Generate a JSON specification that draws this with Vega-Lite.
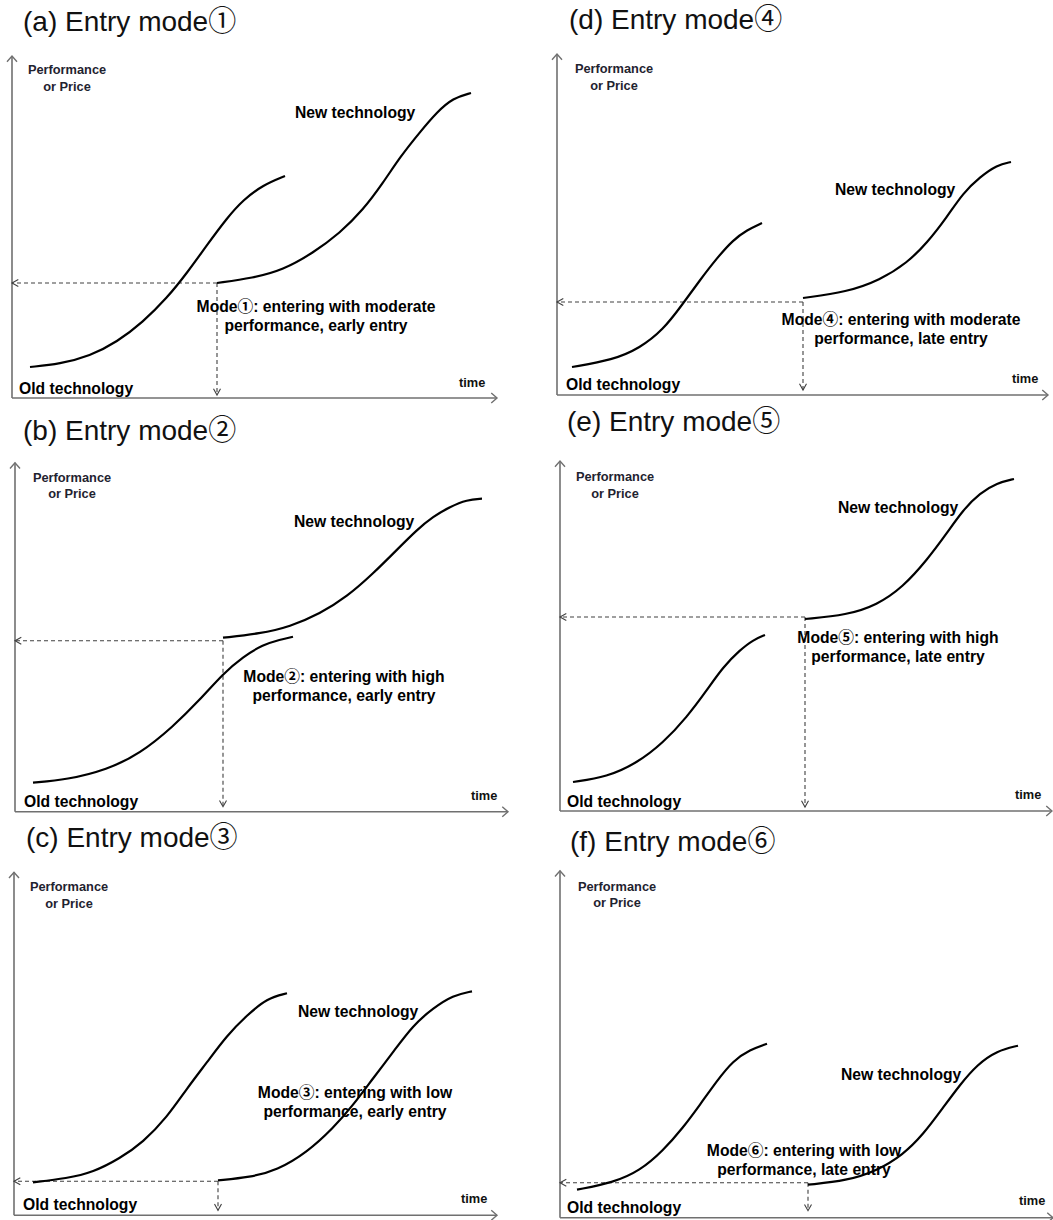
{
  "$schema": "https://vega.github.io/schema/vega-lite/v6.json",
  "description": "Six entry modes of a new technology against an old technology S-curve: performance (or price) over time.",
  "padding": 0,
  "spacing": 0,
  "config": {"view": {"stroke": null}, "concat": {"spacing": 0}},
  "data": {
    "values": [
      {"panel": "a", "kind": "axis", "time": 0, "level": 0, "time_end": 0, "level_end": 342},
      {"panel": "a", "kind": "axis", "time": 0, "level": 0, "time_end": 485, "level_end": 0},
      {"panel": "a", "kind": "axis head", "dir": "up", "time": 0, "level": 342},
      {"panel": "a", "kind": "axis head", "dir": "right", "time": 485, "level": 0},
      {"panel": "a", "kind": "guide", "time": 205, "level": 115, "time_end": 0, "level_end": 115},
      {"panel": "a", "kind": "guide", "time": 205, "level": 115, "time_end": 205, "level_end": 3},
      {"panel": "a", "kind": "guide head", "dir": "left", "time": 0, "level": 115},
      {"panel": "a", "kind": "guide head", "dir": "down", "time": 205, "level": 3},
      {"panel": "a", "kind": "curve", "series": "old", "time": 18, "level": 31},
      {"panel": "a", "kind": "curve", "series": "old", "time": 48, "level": 34},
      {"panel": "a", "kind": "curve", "series": "old", "time": 78, "level": 42},
      {"panel": "a", "kind": "curve", "series": "old", "time": 105, "level": 56},
      {"panel": "a", "kind": "curve", "series": "old", "time": 131, "level": 76},
      {"panel": "a", "kind": "curve", "series": "old", "time": 155, "level": 100},
      {"panel": "a", "kind": "curve", "series": "old", "time": 175, "level": 125},
      {"panel": "a", "kind": "curve", "series": "old", "time": 195, "level": 153},
      {"panel": "a", "kind": "curve", "series": "old", "time": 215, "level": 180},
      {"panel": "a", "kind": "curve", "series": "old", "time": 231, "level": 198},
      {"panel": "a", "kind": "curve", "series": "old", "time": 251, "level": 213},
      {"panel": "a", "kind": "curve", "series": "old", "time": 273, "level": 222},
      {"panel": "a", "kind": "curve", "series": "new", "time": 205, "level": 115},
      {"panel": "a", "kind": "curve", "series": "new", "time": 241, "level": 120},
      {"panel": "a", "kind": "curve", "series": "new", "time": 271, "level": 128},
      {"panel": "a", "kind": "curve", "series": "new", "time": 301, "level": 145},
      {"panel": "a", "kind": "curve", "series": "new", "time": 328, "level": 165},
      {"panel": "a", "kind": "curve", "series": "new", "time": 351, "level": 188},
      {"panel": "a", "kind": "curve", "series": "new", "time": 371, "level": 215},
      {"panel": "a", "kind": "curve", "series": "new", "time": 388, "level": 241},
      {"panel": "a", "kind": "curve", "series": "new", "time": 408, "level": 266},
      {"panel": "a", "kind": "curve", "series": "new", "time": 425, "level": 286},
      {"panel": "a", "kind": "curve", "series": "new", "time": 441, "level": 300},
      {"panel": "a", "kind": "curve", "series": "new", "time": 459, "level": 305},
      {"panel": "a", "kind": "title", "time": 11, "level": 367, "label": "(a) Entry mode①"},
      {"panel": "a", "kind": "y label", "time": 55, "level": 324, "label": "Performance\nor Price"},
      {"panel": "a", "kind": "x label", "time": 447, "level": 11, "label": "time"},
      {"panel": "a", "kind": "series label", "time": 283, "level": 280, "label": "New technology"},
      {"panel": "a", "kind": "series label", "time": 7, "level": 4, "label": "Old technology"},
      {"panel": "a", "kind": "note", "time": 304, "level": 86, "label": "Mode①: entering with moderate\nperformance, early entry"},

      {"panel": "b", "kind": "axis", "time": 0, "level": 0, "time_end": 0, "level_end": 349},
      {"panel": "b", "kind": "axis", "time": 0, "level": 0, "time_end": 493, "level_end": 0},
      {"panel": "b", "kind": "axis head", "dir": "up", "time": 0, "level": 349},
      {"panel": "b", "kind": "axis head", "dir": "right", "time": 493, "level": 0},
      {"panel": "b", "kind": "guide", "time": 208, "level": 171, "time_end": 0, "level_end": 171},
      {"panel": "b", "kind": "guide", "time": 208, "level": 171, "time_end": 208, "level_end": 5},
      {"panel": "b", "kind": "guide head", "dir": "left", "time": 0, "level": 171},
      {"panel": "b", "kind": "guide head", "dir": "down", "time": 208, "level": 5},
      {"panel": "b", "kind": "curve", "series": "old", "time": 18, "level": 29},
      {"panel": "b", "kind": "curve", "series": "old", "time": 52, "level": 32},
      {"panel": "b", "kind": "curve", "series": "old", "time": 92, "level": 42},
      {"panel": "b", "kind": "curve", "series": "old", "time": 125, "level": 58},
      {"panel": "b", "kind": "curve", "series": "old", "time": 158, "level": 85},
      {"panel": "b", "kind": "curve", "series": "old", "time": 185, "level": 112},
      {"panel": "b", "kind": "curve", "series": "old", "time": 208, "level": 138},
      {"panel": "b", "kind": "curve", "series": "old", "time": 228, "level": 155},
      {"panel": "b", "kind": "curve", "series": "old", "time": 248, "level": 167},
      {"panel": "b", "kind": "curve", "series": "old", "time": 265, "level": 172},
      {"panel": "b", "kind": "curve", "series": "old", "time": 278, "level": 175},
      {"panel": "b", "kind": "curve", "series": "new", "time": 208, "level": 174},
      {"panel": "b", "kind": "curve", "series": "new", "time": 245, "level": 178},
      {"panel": "b", "kind": "curve", "series": "new", "time": 275, "level": 185},
      {"panel": "b", "kind": "curve", "series": "new", "time": 305, "level": 198},
      {"panel": "b", "kind": "curve", "series": "new", "time": 332, "level": 215},
      {"panel": "b", "kind": "curve", "series": "new", "time": 358, "level": 238},
      {"panel": "b", "kind": "curve", "series": "new", "time": 382, "level": 262},
      {"panel": "b", "kind": "curve", "series": "new", "time": 402, "level": 282},
      {"panel": "b", "kind": "curve", "series": "new", "time": 418, "level": 295},
      {"panel": "b", "kind": "curve", "series": "new", "time": 435, "level": 305},
      {"panel": "b", "kind": "curve", "series": "new", "time": 452, "level": 312},
      {"panel": "b", "kind": "curve", "series": "new", "time": 467, "level": 313},
      {"panel": "b", "kind": "title", "time": 8, "level": 372, "label": "(b) Entry mode②"},
      {"panel": "b", "kind": "y label", "time": 57, "level": 330, "label": "Performance\nor Price"},
      {"panel": "b", "kind": "x label", "time": 456, "level": 12, "label": "time"},
      {"panel": "b", "kind": "series label", "time": 279, "level": 285, "label": "New technology"},
      {"panel": "b", "kind": "series label", "time": 9, "level": 5, "label": "Old technology"},
      {"panel": "b", "kind": "note", "time": 329, "level": 130, "label": "Mode②: entering with high\nperformance, early entry"},

      {"panel": "c", "kind": "axis", "time": 0, "level": 0, "time_end": 0, "level_end": 343},
      {"panel": "c", "kind": "axis", "time": 0, "level": 0, "time_end": 483, "level_end": 0},
      {"panel": "c", "kind": "axis head", "dir": "up", "time": 0, "level": 343},
      {"panel": "c", "kind": "axis head", "dir": "right", "time": 483, "level": 0},
      {"panel": "c", "kind": "guide", "time": 204, "level": 34, "time_end": 0, "level_end": 34},
      {"panel": "c", "kind": "guide", "time": 204, "level": 34, "time_end": 204, "level_end": 5},
      {"panel": "c", "kind": "guide head", "dir": "left", "time": 0, "level": 34},
      {"panel": "c", "kind": "guide head", "dir": "down", "time": 204, "level": 5},
      {"panel": "c", "kind": "curve", "series": "old", "time": 19, "level": 33},
      {"panel": "c", "kind": "curve", "series": "old", "time": 53, "level": 37},
      {"panel": "c", "kind": "curve", "series": "old", "time": 79, "level": 43},
      {"panel": "c", "kind": "curve", "series": "old", "time": 106, "level": 57},
      {"panel": "c", "kind": "curve", "series": "old", "time": 129, "level": 73},
      {"panel": "c", "kind": "curve", "series": "old", "time": 153, "level": 98},
      {"panel": "c", "kind": "curve", "series": "old", "time": 173, "level": 127},
      {"panel": "c", "kind": "curve", "series": "old", "time": 193, "level": 153},
      {"panel": "c", "kind": "curve", "series": "old", "time": 213, "level": 180},
      {"panel": "c", "kind": "curve", "series": "old", "time": 233, "level": 200},
      {"panel": "c", "kind": "curve", "series": "old", "time": 253, "level": 217},
      {"panel": "c", "kind": "curve", "series": "old", "time": 273, "level": 222},
      {"panel": "c", "kind": "curve", "series": "new", "time": 204, "level": 35},
      {"panel": "c", "kind": "curve", "series": "new", "time": 236, "level": 38},
      {"panel": "c", "kind": "curve", "series": "new", "time": 263, "level": 45},
      {"panel": "c", "kind": "curve", "series": "new", "time": 293, "level": 63},
      {"panel": "c", "kind": "curve", "series": "new", "time": 319, "level": 87},
      {"panel": "c", "kind": "curve", "series": "new", "time": 339, "level": 110},
      {"panel": "c", "kind": "curve", "series": "new", "time": 359, "level": 137},
      {"panel": "c", "kind": "curve", "series": "new", "time": 379, "level": 163},
      {"panel": "c", "kind": "curve", "series": "new", "time": 399, "level": 190},
      {"panel": "c", "kind": "curve", "series": "new", "time": 419, "level": 207},
      {"panel": "c", "kind": "curve", "series": "new", "time": 439, "level": 220},
      {"panel": "c", "kind": "curve", "series": "new", "time": 458, "level": 224},
      {"panel": "c", "kind": "title", "time": 12, "level": 368, "label": "(c) Entry mode③"},
      {"panel": "c", "kind": "y label", "time": 55, "level": 324, "label": "Performance\nor Price"},
      {"panel": "c", "kind": "x label", "time": 447, "level": 12, "label": "time"},
      {"panel": "c", "kind": "series label", "time": 284, "level": 198, "label": "New technology"},
      {"panel": "c", "kind": "series label", "time": 9, "level": 5, "label": "Old technology"},
      {"panel": "c", "kind": "note", "time": 341, "level": 117, "label": "Mode③: entering with low\nperformance, early entry"},

      {"panel": "d", "kind": "axis", "time": 0, "level": 0, "time_end": 0, "level_end": 341},
      {"panel": "d", "kind": "axis", "time": 0, "level": 0, "time_end": 491, "level_end": 0},
      {"panel": "d", "kind": "axis head", "dir": "up", "time": 0, "level": 341},
      {"panel": "d", "kind": "axis head", "dir": "right", "time": 491, "level": 0},
      {"panel": "d", "kind": "guide", "time": 246, "level": 93, "time_end": 0, "level_end": 93},
      {"panel": "d", "kind": "guide", "time": 246, "level": 93, "time_end": 246, "level_end": 5},
      {"panel": "d", "kind": "guide head", "dir": "left", "time": 0, "level": 93},
      {"panel": "d", "kind": "guide head", "dir": "down", "time": 246, "level": 5},
      {"panel": "d", "kind": "curve", "series": "old", "time": 15, "level": 28},
      {"panel": "d", "kind": "curve", "series": "old", "time": 56, "level": 35},
      {"panel": "d", "kind": "curve", "series": "old", "time": 83, "level": 47},
      {"panel": "d", "kind": "curve", "series": "old", "time": 106, "level": 65},
      {"panel": "d", "kind": "curve", "series": "old", "time": 125, "level": 90},
      {"panel": "d", "kind": "curve", "series": "old", "time": 143, "level": 115},
      {"panel": "d", "kind": "curve", "series": "old", "time": 160, "level": 137},
      {"panel": "d", "kind": "curve", "series": "old", "time": 176, "level": 155},
      {"panel": "d", "kind": "curve", "series": "old", "time": 190, "level": 165},
      {"panel": "d", "kind": "curve", "series": "old", "time": 205, "level": 172},
      {"panel": "d", "kind": "curve", "series": "new", "time": 246, "level": 97},
      {"panel": "d", "kind": "curve", "series": "new", "time": 290, "level": 103},
      {"panel": "d", "kind": "curve", "series": "new", "time": 323, "level": 115},
      {"panel": "d", "kind": "curve", "series": "new", "time": 350, "level": 132},
      {"panel": "d", "kind": "curve", "series": "new", "time": 370, "level": 152},
      {"panel": "d", "kind": "curve", "series": "new", "time": 390, "level": 178},
      {"panel": "d", "kind": "curve", "series": "new", "time": 406, "level": 202},
      {"panel": "d", "kind": "curve", "series": "new", "time": 423, "level": 218},
      {"panel": "d", "kind": "curve", "series": "new", "time": 440, "level": 230},
      {"panel": "d", "kind": "curve", "series": "new", "time": 454, "level": 233},
      {"panel": "d", "kind": "title", "time": 12, "level": 366, "label": "(d) Entry mode④"},
      {"panel": "d", "kind": "y label", "time": 57, "level": 322, "label": "Performance\nor Price"},
      {"panel": "d", "kind": "x label", "time": 455, "level": 12, "label": "time"},
      {"panel": "d", "kind": "series label", "time": 278, "level": 200, "label": "New technology"},
      {"panel": "d", "kind": "series label", "time": 9, "level": 5, "label": "Old technology"},
      {"panel": "d", "kind": "note", "time": 344, "level": 70, "label": "Mode④: entering with moderate\nperformance, late entry"},

      {"panel": "e", "kind": "axis", "time": 0, "level": 0, "time_end": 0, "level_end": 350},
      {"panel": "e", "kind": "axis", "time": 0, "level": 0, "time_end": 492, "level_end": 0},
      {"panel": "e", "kind": "axis head", "dir": "up", "time": 0, "level": 350},
      {"panel": "e", "kind": "axis head", "dir": "right", "time": 492, "level": 0},
      {"panel": "e", "kind": "guide", "time": 245, "level": 194, "time_end": 0, "level_end": 194},
      {"panel": "e", "kind": "guide", "time": 245, "level": 194, "time_end": 245, "level_end": 4},
      {"panel": "e", "kind": "guide head", "dir": "left", "time": 0, "level": 194},
      {"panel": "e", "kind": "guide head", "dir": "down", "time": 245, "level": 4},
      {"panel": "e", "kind": "curve", "series": "old", "time": 13, "level": 29},
      {"panel": "e", "kind": "curve", "series": "old", "time": 47, "level": 34},
      {"panel": "e", "kind": "curve", "series": "old", "time": 77, "level": 48},
      {"panel": "e", "kind": "curve", "series": "old", "time": 103, "level": 68},
      {"panel": "e", "kind": "curve", "series": "old", "time": 127, "level": 94},
      {"panel": "e", "kind": "curve", "series": "old", "time": 147, "level": 121},
      {"panel": "e", "kind": "curve", "series": "old", "time": 163, "level": 144},
      {"panel": "e", "kind": "curve", "series": "old", "time": 180, "level": 161},
      {"panel": "e", "kind": "curve", "series": "old", "time": 193, "level": 171},
      {"panel": "e", "kind": "curve", "series": "old", "time": 205, "level": 176},
      {"panel": "e", "kind": "curve", "series": "new", "time": 245, "level": 192},
      {"panel": "e", "kind": "curve", "series": "new", "time": 287, "level": 196},
      {"panel": "e", "kind": "curve", "series": "new", "time": 317, "level": 206},
      {"panel": "e", "kind": "curve", "series": "new", "time": 343, "level": 224},
      {"panel": "e", "kind": "curve", "series": "new", "time": 367, "level": 251},
      {"panel": "e", "kind": "curve", "series": "new", "time": 387, "level": 278},
      {"panel": "e", "kind": "curve", "series": "new", "time": 403, "level": 301},
      {"panel": "e", "kind": "curve", "series": "new", "time": 420, "level": 318},
      {"panel": "e", "kind": "curve", "series": "new", "time": 437, "level": 328},
      {"panel": "e", "kind": "curve", "series": "new", "time": 454, "level": 332},
      {"panel": "e", "kind": "title", "time": 7, "level": 380, "label": "(e) Entry mode⑤"},
      {"panel": "e", "kind": "y label", "time": 55, "level": 330, "label": "Performance\nor Price"},
      {"panel": "e", "kind": "x label", "time": 455, "level": 12, "label": "time"},
      {"panel": "e", "kind": "series label", "time": 278, "level": 298, "label": "New technology"},
      {"panel": "e", "kind": "series label", "time": 7, "level": 4, "label": "Old technology"},
      {"panel": "e", "kind": "note", "time": 338, "level": 168, "label": "Mode⑤: entering with high\nperformance, late entry"},

      {"panel": "f", "kind": "axis", "time": 0, "level": 0, "time_end": 0, "level_end": 347},
      {"panel": "f", "kind": "axis", "time": 0, "level": 0, "time_end": 493, "level_end": 0},
      {"panel": "f", "kind": "axis head", "dir": "up", "time": 0, "level": 347},
      {"panel": "f", "kind": "axis head", "dir": "right", "time": 493, "level": 0},
      {"panel": "f", "kind": "guide", "time": 248, "level": 35, "time_end": 0, "level_end": 35},
      {"panel": "f", "kind": "guide", "time": 248, "level": 35, "time_end": 248, "level_end": 7},
      {"panel": "f", "kind": "guide head", "dir": "left", "time": 0, "level": 35},
      {"panel": "f", "kind": "guide head", "dir": "down", "time": 248, "level": 7},
      {"panel": "f", "kind": "curve", "series": "old", "time": 17, "level": 28},
      {"panel": "f", "kind": "curve", "series": "old", "time": 53, "level": 35},
      {"panel": "f", "kind": "curve", "series": "old", "time": 80, "level": 47},
      {"panel": "f", "kind": "curve", "series": "old", "time": 103, "level": 67},
      {"panel": "f", "kind": "curve", "series": "old", "time": 123, "level": 90},
      {"panel": "f", "kind": "curve", "series": "old", "time": 140, "level": 113},
      {"panel": "f", "kind": "curve", "series": "old", "time": 157, "level": 137},
      {"panel": "f", "kind": "curve", "series": "old", "time": 173, "level": 157},
      {"panel": "f", "kind": "curve", "series": "old", "time": 190, "level": 168},
      {"panel": "f", "kind": "curve", "series": "old", "time": 207, "level": 174},
      {"panel": "f", "kind": "curve", "series": "new", "time": 248, "level": 33},
      {"panel": "f", "kind": "curve", "series": "new", "time": 287, "level": 37},
      {"panel": "f", "kind": "curve", "series": "new", "time": 317, "level": 47},
      {"panel": "f", "kind": "curve", "series": "new", "time": 343, "level": 63},
      {"panel": "f", "kind": "curve", "series": "new", "time": 363, "level": 83},
      {"panel": "f", "kind": "curve", "series": "new", "time": 383, "level": 110},
      {"panel": "f", "kind": "curve", "series": "new", "time": 400, "level": 133},
      {"panel": "f", "kind": "curve", "series": "new", "time": 417, "level": 153},
      {"panel": "f", "kind": "curve", "series": "new", "time": 437, "level": 167},
      {"panel": "f", "kind": "curve", "series": "new", "time": 458, "level": 172},
      {"panel": "f", "kind": "title", "time": 10, "level": 367, "label": "(f) Entry mode⑥"},
      {"panel": "f", "kind": "y label", "time": 57, "level": 327, "label": "Performance\nor Price"},
      {"panel": "f", "kind": "x label", "time": 459, "level": 13, "label": "time"},
      {"panel": "f", "kind": "series label", "time": 281, "level": 138, "label": "New technology"},
      {"panel": "f", "kind": "series label", "time": 7, "level": 5, "label": "Old technology"},
      {"panel": "f", "kind": "note", "time": 244, "level": 62, "label": "Mode⑥: entering with low\nperformance, late entry"}
    ]
  },
  "hconcat": [
    {
      "spacing": 0,
      "vconcat": [
        {
          "width": 526, "height": 408,
          "transform": [{"filter": "datum.panel === 'a'"}],
          "encoding": {
            "x": {"field": "time", "type": "quantitative", "scale": {"domain": [-12, 514], "nice": false, "zero": false}, "axis": null},
            "y": {"field": "level", "type": "quantitative", "scale": {"domain": [-10, 398], "nice": false, "zero": false}, "axis": null}
          },
          "layer": [
            {"transform": [{"filter": "datum.kind === 'axis'"}], "mark": {"type": "rule", "color": "#707070", "strokeWidth": 1.6}, "encoding": {"x2": {"field": "time_end"}, "y2": {"field": "level_end"}}},
            {"transform": [{"filter": "datum.kind === 'axis head'"}], "mark": {"type": "point", "shape": "M-1,1.15L0,0L1,1.15", "filled": false, "size": 100, "strokeWidth": 1.4, "color": "#707070", "opacity": 1}, "encoding": {"angle": {"condition": {"test": "datum.dir === 'right'", "value": 90}, "value": 0}}},
            {"transform": [{"filter": "datum.kind === 'guide'"}], "mark": {"type": "rule", "color": "#404040", "strokeWidth": 1.1, "strokeDash": [4, 3]}, "encoding": {"x2": {"field": "time_end"}, "y2": {"field": "level_end"}}},
            {"transform": [{"filter": "datum.kind === 'guide head'"}], "mark": {"type": "point", "shape": "M-1,1.8L0,0L1,1.8", "filled": false, "size": 49, "strokeWidth": 1.1, "color": "#404040", "opacity": 1}, "encoding": {"angle": {"condition": {"test": "datum.dir === 'left'", "value": 270}, "value": 180}}},
            {"transform": [{"filter": "datum.kind === 'curve'"}], "mark": {"type": "line", "interpolate": "basis", "color": "#000000", "strokeWidth": 2.2}, "encoding": {"detail": {"field": "series"}}},
            {"transform": [{"filter": "datum.kind === 'title'"}], "mark": {"type": "text", "align": "left", "baseline": "alphabetic", "font": "Arial, 'Liberation Sans', 'Noto Sans CJK JP', sans-serif", "fontSize": 28, "color": "#111111"}, "encoding": {"text": {"field": "label"}}},
            {"transform": [{"filter": "datum.kind === 'y label'"}], "mark": {"type": "text", "align": "center", "baseline": "alphabetic", "font": "Arial, 'Liberation Sans', sans-serif", "fontSize": 12.8, "fontWeight": "bold", "lineBreak": "\n", "lineHeight": 16.5, "color": "#1f2330"}, "encoding": {"text": {"field": "label"}}},
            {"transform": [{"filter": "datum.kind === 'x label'"}], "mark": {"type": "text", "align": "left", "baseline": "alphabetic", "font": "Arial, 'Liberation Sans', sans-serif", "fontSize": 12.8, "fontWeight": "bold", "color": "#111111"}, "encoding": {"text": {"field": "label"}}},
            {"transform": [{"filter": "datum.kind === 'series label'"}], "mark": {"type": "text", "align": "left", "baseline": "alphabetic", "font": "Arial, 'Liberation Sans', sans-serif", "fontSize": 15.7, "fontWeight": "bold", "color": "#000000"}, "encoding": {"text": {"field": "label"}}},
            {"transform": [{"filter": "datum.kind === 'note'"}], "mark": {"type": "text", "align": "center", "baseline": "alphabetic", "font": "Arial, 'Liberation Sans', 'Noto Sans CJK JP', sans-serif", "fontSize": 15.7, "fontWeight": "bold", "lineBreak": "\n", "lineHeight": 19, "color": "#000000"}, "encoding": {"text": {"field": "label"}}}
          ]
        },
        {
          "width": 526, "height": 410,
          "transform": [{"filter": "datum.panel === 'b'"}],
          "encoding": {
            "x": {"field": "time", "type": "quantitative", "scale": {"domain": [-15, 511], "nice": false, "zero": false}, "axis": null},
            "y": {"field": "level", "type": "quantitative", "scale": {"domain": [-6.3, 403.7], "nice": false, "zero": false}, "axis": null}
          },
          "layer": [
            {"transform": [{"filter": "datum.kind === 'axis'"}], "mark": {"type": "rule", "color": "#707070", "strokeWidth": 1.6}, "encoding": {"x2": {"field": "time_end"}, "y2": {"field": "level_end"}}},
            {"transform": [{"filter": "datum.kind === 'axis head'"}], "mark": {"type": "point", "shape": "M-1,1.15L0,0L1,1.15", "filled": false, "size": 100, "strokeWidth": 1.4, "color": "#707070", "opacity": 1}, "encoding": {"angle": {"condition": {"test": "datum.dir === 'right'", "value": 90}, "value": 0}}},
            {"transform": [{"filter": "datum.kind === 'guide'"}], "mark": {"type": "rule", "color": "#404040", "strokeWidth": 1.1, "strokeDash": [4, 3]}, "encoding": {"x2": {"field": "time_end"}, "y2": {"field": "level_end"}}},
            {"transform": [{"filter": "datum.kind === 'guide head'"}], "mark": {"type": "point", "shape": "M-1,1.8L0,0L1,1.8", "filled": false, "size": 49, "strokeWidth": 1.1, "color": "#404040", "opacity": 1}, "encoding": {"angle": {"condition": {"test": "datum.dir === 'left'", "value": 270}, "value": 180}}},
            {"transform": [{"filter": "datum.kind === 'curve'"}], "mark": {"type": "line", "interpolate": "basis", "color": "#000000", "strokeWidth": 2.2}, "encoding": {"detail": {"field": "series"}}},
            {"transform": [{"filter": "datum.kind === 'title'"}], "mark": {"type": "text", "align": "left", "baseline": "alphabetic", "font": "Arial, 'Liberation Sans', 'Noto Sans CJK JP', sans-serif", "fontSize": 28, "color": "#111111"}, "encoding": {"text": {"field": "label"}}},
            {"transform": [{"filter": "datum.kind === 'y label'"}], "mark": {"type": "text", "align": "center", "baseline": "alphabetic", "font": "Arial, 'Liberation Sans', sans-serif", "fontSize": 12.8, "fontWeight": "bold", "lineBreak": "\n", "lineHeight": 16.5, "color": "#1f2330"}, "encoding": {"text": {"field": "label"}}},
            {"transform": [{"filter": "datum.kind === 'x label'"}], "mark": {"type": "text", "align": "left", "baseline": "alphabetic", "font": "Arial, 'Liberation Sans', sans-serif", "fontSize": 12.8, "fontWeight": "bold", "color": "#111111"}, "encoding": {"text": {"field": "label"}}},
            {"transform": [{"filter": "datum.kind === 'series label'"}], "mark": {"type": "text", "align": "left", "baseline": "alphabetic", "font": "Arial, 'Liberation Sans', sans-serif", "fontSize": 15.7, "fontWeight": "bold", "color": "#000000"}, "encoding": {"text": {"field": "label"}}},
            {"transform": [{"filter": "datum.kind === 'note'"}], "mark": {"type": "text", "align": "center", "baseline": "alphabetic", "font": "Arial, 'Liberation Sans', 'Noto Sans CJK JP', sans-serif", "fontSize": 15.7, "fontWeight": "bold", "lineBreak": "\n", "lineHeight": 19, "color": "#000000"}, "encoding": {"text": {"field": "label"}}}
          ]
        },
        {
          "width": 526, "height": 402,
          "transform": [{"filter": "datum.panel === 'c'"}],
          "encoding": {
            "x": {"field": "time", "type": "quantitative", "scale": {"domain": [-14, 512], "nice": false, "zero": false}, "axis": null},
            "y": {"field": "level", "type": "quantitative", "scale": {"domain": [-6.7, 395.3], "nice": false, "zero": false}, "axis": null}
          },
          "layer": [
            {"transform": [{"filter": "datum.kind === 'axis'"}], "mark": {"type": "rule", "color": "#707070", "strokeWidth": 1.6}, "encoding": {"x2": {"field": "time_end"}, "y2": {"field": "level_end"}}},
            {"transform": [{"filter": "datum.kind === 'axis head'"}], "mark": {"type": "point", "shape": "M-1,1.15L0,0L1,1.15", "filled": false, "size": 100, "strokeWidth": 1.4, "color": "#707070", "opacity": 1}, "encoding": {"angle": {"condition": {"test": "datum.dir === 'right'", "value": 90}, "value": 0}}},
            {"transform": [{"filter": "datum.kind === 'guide'"}], "mark": {"type": "rule", "color": "#404040", "strokeWidth": 1.1, "strokeDash": [4, 3]}, "encoding": {"x2": {"field": "time_end"}, "y2": {"field": "level_end"}}},
            {"transform": [{"filter": "datum.kind === 'guide head'"}], "mark": {"type": "point", "shape": "M-1,1.8L0,0L1,1.8", "filled": false, "size": 49, "strokeWidth": 1.1, "color": "#404040", "opacity": 1}, "encoding": {"angle": {"condition": {"test": "datum.dir === 'left'", "value": 270}, "value": 180}}},
            {"transform": [{"filter": "datum.kind === 'curve'"}], "mark": {"type": "line", "interpolate": "basis", "color": "#000000", "strokeWidth": 2.2}, "encoding": {"detail": {"field": "series"}}},
            {"transform": [{"filter": "datum.kind === 'title'"}], "mark": {"type": "text", "align": "left", "baseline": "alphabetic", "font": "Arial, 'Liberation Sans', 'Noto Sans CJK JP', sans-serif", "fontSize": 28, "color": "#111111"}, "encoding": {"text": {"field": "label"}}},
            {"transform": [{"filter": "datum.kind === 'y label'"}], "mark": {"type": "text", "align": "center", "baseline": "alphabetic", "font": "Arial, 'Liberation Sans', sans-serif", "fontSize": 12.8, "fontWeight": "bold", "lineBreak": "\n", "lineHeight": 16.5, "color": "#1f2330"}, "encoding": {"text": {"field": "label"}}},
            {"transform": [{"filter": "datum.kind === 'x label'"}], "mark": {"type": "text", "align": "left", "baseline": "alphabetic", "font": "Arial, 'Liberation Sans', sans-serif", "fontSize": 12.8, "fontWeight": "bold", "color": "#111111"}, "encoding": {"text": {"field": "label"}}},
            {"transform": [{"filter": "datum.kind === 'series label'"}], "mark": {"type": "text", "align": "left", "baseline": "alphabetic", "font": "Arial, 'Liberation Sans', sans-serif", "fontSize": 15.7, "fontWeight": "bold", "color": "#000000"}, "encoding": {"text": {"field": "label"}}},
            {"transform": [{"filter": "datum.kind === 'note'"}], "mark": {"type": "text", "align": "center", "baseline": "alphabetic", "font": "Arial, 'Liberation Sans', 'Noto Sans CJK JP', sans-serif", "fontSize": 15.7, "fontWeight": "bold", "lineBreak": "\n", "lineHeight": 19, "color": "#000000"}, "encoding": {"text": {"field": "label"}}}
          ]
        }
      ]
    },
    {
      "spacing": 0,
      "vconcat": [
        {
          "width": 527, "height": 405,
          "transform": [{"filter": "datum.panel === 'd'"}],
          "encoding": {
            "x": {"field": "time", "type": "quantitative", "scale": {"domain": [-31, 496], "nice": false, "zero": false}, "axis": null},
            "y": {"field": "level", "type": "quantitative", "scale": {"domain": [-10, 395], "nice": false, "zero": false}, "axis": null}
          },
          "layer": [
            {"transform": [{"filter": "datum.kind === 'axis'"}], "mark": {"type": "rule", "color": "#707070", "strokeWidth": 1.6}, "encoding": {"x2": {"field": "time_end"}, "y2": {"field": "level_end"}}},
            {"transform": [{"filter": "datum.kind === 'axis head'"}], "mark": {"type": "point", "shape": "M-1,1.15L0,0L1,1.15", "filled": false, "size": 100, "strokeWidth": 1.4, "color": "#707070", "opacity": 1}, "encoding": {"angle": {"condition": {"test": "datum.dir === 'right'", "value": 90}, "value": 0}}},
            {"transform": [{"filter": "datum.kind === 'guide'"}], "mark": {"type": "rule", "color": "#404040", "strokeWidth": 1.1, "strokeDash": [4, 3]}, "encoding": {"x2": {"field": "time_end"}, "y2": {"field": "level_end"}}},
            {"transform": [{"filter": "datum.kind === 'guide head'"}], "mark": {"type": "point", "shape": "M-1,1.8L0,0L1,1.8", "filled": false, "size": 49, "strokeWidth": 1.1, "color": "#404040", "opacity": 1}, "encoding": {"angle": {"condition": {"test": "datum.dir === 'left'", "value": 270}, "value": 180}}},
            {"transform": [{"filter": "datum.kind === 'curve'"}], "mark": {"type": "line", "interpolate": "basis", "color": "#000000", "strokeWidth": 2.2}, "encoding": {"detail": {"field": "series"}}},
            {"transform": [{"filter": "datum.kind === 'title'"}], "mark": {"type": "text", "align": "left", "baseline": "alphabetic", "font": "Arial, 'Liberation Sans', 'Noto Sans CJK JP', sans-serif", "fontSize": 28, "color": "#111111"}, "encoding": {"text": {"field": "label"}}},
            {"transform": [{"filter": "datum.kind === 'y label'"}], "mark": {"type": "text", "align": "center", "baseline": "alphabetic", "font": "Arial, 'Liberation Sans', sans-serif", "fontSize": 12.8, "fontWeight": "bold", "lineBreak": "\n", "lineHeight": 16.5, "color": "#1f2330"}, "encoding": {"text": {"field": "label"}}},
            {"transform": [{"filter": "datum.kind === 'x label'"}], "mark": {"type": "text", "align": "left", "baseline": "alphabetic", "font": "Arial, 'Liberation Sans', sans-serif", "fontSize": 12.8, "fontWeight": "bold", "color": "#111111"}, "encoding": {"text": {"field": "label"}}},
            {"transform": [{"filter": "datum.kind === 'series label'"}], "mark": {"type": "text", "align": "left", "baseline": "alphabetic", "font": "Arial, 'Liberation Sans', sans-serif", "fontSize": 15.7, "fontWeight": "bold", "color": "#000000"}, "encoding": {"text": {"field": "label"}}},
            {"transform": [{"filter": "datum.kind === 'note'"}], "mark": {"type": "text", "align": "center", "baseline": "alphabetic", "font": "Arial, 'Liberation Sans', 'Noto Sans CJK JP', sans-serif", "fontSize": 15.7, "fontWeight": "bold", "lineBreak": "\n", "lineHeight": 19, "color": "#000000"}, "encoding": {"text": {"field": "label"}}}
          ]
        },
        {
          "width": 527, "height": 413,
          "transform": [{"filter": "datum.panel === 'e'"}],
          "encoding": {
            "x": {"field": "time", "type": "quantitative", "scale": {"domain": [-34, 493], "nice": false, "zero": false}, "axis": null},
            "y": {"field": "level", "type": "quantitative", "scale": {"domain": [-7, 406], "nice": false, "zero": false}, "axis": null}
          },
          "layer": [
            {"transform": [{"filter": "datum.kind === 'axis'"}], "mark": {"type": "rule", "color": "#707070", "strokeWidth": 1.6}, "encoding": {"x2": {"field": "time_end"}, "y2": {"field": "level_end"}}},
            {"transform": [{"filter": "datum.kind === 'axis head'"}], "mark": {"type": "point", "shape": "M-1,1.15L0,0L1,1.15", "filled": false, "size": 100, "strokeWidth": 1.4, "color": "#707070", "opacity": 1}, "encoding": {"angle": {"condition": {"test": "datum.dir === 'right'", "value": 90}, "value": 0}}},
            {"transform": [{"filter": "datum.kind === 'guide'"}], "mark": {"type": "rule", "color": "#404040", "strokeWidth": 1.1, "strokeDash": [4, 3]}, "encoding": {"x2": {"field": "time_end"}, "y2": {"field": "level_end"}}},
            {"transform": [{"filter": "datum.kind === 'guide head'"}], "mark": {"type": "point", "shape": "M-1,1.8L0,0L1,1.8", "filled": false, "size": 49, "strokeWidth": 1.1, "color": "#404040", "opacity": 1}, "encoding": {"angle": {"condition": {"test": "datum.dir === 'left'", "value": 270}, "value": 180}}},
            {"transform": [{"filter": "datum.kind === 'curve'"}], "mark": {"type": "line", "interpolate": "basis", "color": "#000000", "strokeWidth": 2.2}, "encoding": {"detail": {"field": "series"}}},
            {"transform": [{"filter": "datum.kind === 'title'"}], "mark": {"type": "text", "align": "left", "baseline": "alphabetic", "font": "Arial, 'Liberation Sans', 'Noto Sans CJK JP', sans-serif", "fontSize": 28, "color": "#111111"}, "encoding": {"text": {"field": "label"}}},
            {"transform": [{"filter": "datum.kind === 'y label'"}], "mark": {"type": "text", "align": "center", "baseline": "alphabetic", "font": "Arial, 'Liberation Sans', sans-serif", "fontSize": 12.8, "fontWeight": "bold", "lineBreak": "\n", "lineHeight": 16.5, "color": "#1f2330"}, "encoding": {"text": {"field": "label"}}},
            {"transform": [{"filter": "datum.kind === 'x label'"}], "mark": {"type": "text", "align": "left", "baseline": "alphabetic", "font": "Arial, 'Liberation Sans', sans-serif", "fontSize": 12.8, "fontWeight": "bold", "color": "#111111"}, "encoding": {"text": {"field": "label"}}},
            {"transform": [{"filter": "datum.kind === 'series label'"}], "mark": {"type": "text", "align": "left", "baseline": "alphabetic", "font": "Arial, 'Liberation Sans', sans-serif", "fontSize": 15.7, "fontWeight": "bold", "color": "#000000"}, "encoding": {"text": {"field": "label"}}},
            {"transform": [{"filter": "datum.kind === 'note'"}], "mark": {"type": "text", "align": "center", "baseline": "alphabetic", "font": "Arial, 'Liberation Sans', 'Noto Sans CJK JP', sans-serif", "fontSize": 15.7, "fontWeight": "bold", "lineBreak": "\n", "lineHeight": 19, "color": "#000000"}, "encoding": {"text": {"field": "label"}}}
          ]
        },
        {
          "width": 527, "height": 402,
          "transform": [{"filter": "datum.panel === 'f'"}],
          "encoding": {
            "x": {"field": "time", "type": "quantitative", "scale": {"domain": [-34, 493], "nice": false, "zero": false}, "axis": null},
            "y": {"field": "level", "type": "quantitative", "scale": {"domain": [-3.3, 398.7], "nice": false, "zero": false}, "axis": null}
          },
          "layer": [
            {"transform": [{"filter": "datum.kind === 'axis'"}], "mark": {"type": "rule", "color": "#707070", "strokeWidth": 1.6}, "encoding": {"x2": {"field": "time_end"}, "y2": {"field": "level_end"}}},
            {"transform": [{"filter": "datum.kind === 'axis head'"}], "mark": {"type": "point", "shape": "M-1,1.15L0,0L1,1.15", "filled": false, "size": 100, "strokeWidth": 1.4, "color": "#707070", "opacity": 1}, "encoding": {"angle": {"condition": {"test": "datum.dir === 'right'", "value": 90}, "value": 0}}},
            {"transform": [{"filter": "datum.kind === 'guide'"}], "mark": {"type": "rule", "color": "#404040", "strokeWidth": 1.1, "strokeDash": [4, 3]}, "encoding": {"x2": {"field": "time_end"}, "y2": {"field": "level_end"}}},
            {"transform": [{"filter": "datum.kind === 'guide head'"}], "mark": {"type": "point", "shape": "M-1,1.8L0,0L1,1.8", "filled": false, "size": 49, "strokeWidth": 1.1, "color": "#404040", "opacity": 1}, "encoding": {"angle": {"condition": {"test": "datum.dir === 'left'", "value": 270}, "value": 180}}},
            {"transform": [{"filter": "datum.kind === 'curve'"}], "mark": {"type": "line", "interpolate": "basis", "color": "#000000", "strokeWidth": 2.2}, "encoding": {"detail": {"field": "series"}}},
            {"transform": [{"filter": "datum.kind === 'title'"}], "mark": {"type": "text", "align": "left", "baseline": "alphabetic", "font": "Arial, 'Liberation Sans', 'Noto Sans CJK JP', sans-serif", "fontSize": 28, "color": "#111111"}, "encoding": {"text": {"field": "label"}}},
            {"transform": [{"filter": "datum.kind === 'y label'"}], "mark": {"type": "text", "align": "center", "baseline": "alphabetic", "font": "Arial, 'Liberation Sans', sans-serif", "fontSize": 12.8, "fontWeight": "bold", "lineBreak": "\n", "lineHeight": 16.5, "color": "#1f2330"}, "encoding": {"text": {"field": "label"}}},
            {"transform": [{"filter": "datum.kind === 'x label'"}], "mark": {"type": "text", "align": "left", "baseline": "alphabetic", "font": "Arial, 'Liberation Sans', sans-serif", "fontSize": 12.8, "fontWeight": "bold", "color": "#111111"}, "encoding": {"text": {"field": "label"}}},
            {"transform": [{"filter": "datum.kind === 'series label'"}], "mark": {"type": "text", "align": "left", "baseline": "alphabetic", "font": "Arial, 'Liberation Sans', sans-serif", "fontSize": 15.7, "fontWeight": "bold", "color": "#000000"}, "encoding": {"text": {"field": "label"}}},
            {"transform": [{"filter": "datum.kind === 'note'"}], "mark": {"type": "text", "align": "center", "baseline": "alphabetic", "font": "Arial, 'Liberation Sans', 'Noto Sans CJK JP', sans-serif", "fontSize": 15.7, "fontWeight": "bold", "lineBreak": "\n", "lineHeight": 19, "color": "#000000"}, "encoding": {"text": {"field": "label"}}}
          ]
        }
      ]
    }
  ]
}
